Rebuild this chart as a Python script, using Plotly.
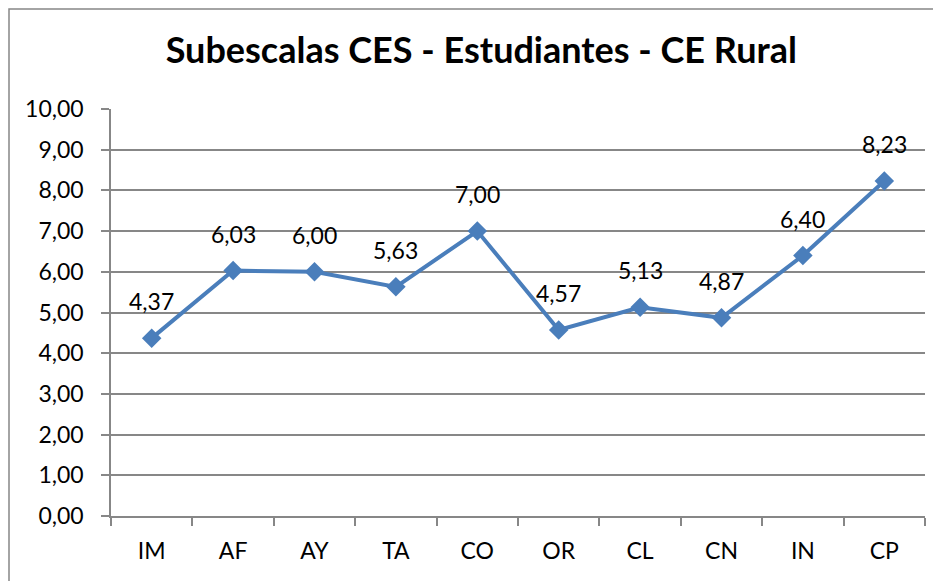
import plotly.graph_objects as go

categories = ["IM", "AF", "AY", "TA", "CO", "OR", "CL", "CN", "IN", "CP"]
values = [4.37, 6.03, 6.00, 5.63, 7.00, 4.57, 5.13, 4.87, 6.40, 8.23]
y_ticks = [0, 1, 2, 3, 4, 5, 6, 7, 8, 9, 10]
title_text = "Subescalas CES - Estudiantes - CE Rural"

FONT = "Lato"
GRID = "#878787"
LINE = "#4A7EBB"

fig = go.Figure()
fig.add_trace(go.Scatter(
    x=categories, y=values, mode="lines+markers",
    line=dict(color=LINE, width=4),
    marker=dict(symbol="diamond", size=15, color=LINE),
    hoverinfo="skip", showlegend=False,
))

for c, v in zip(categories, values):
    fig.add_annotation(
        x=c, y=v, text=f"{v:.2f}".replace(".", ","), showarrow=False,
        yshift=37, font=dict(family=FONT, size=23, color="black"),
    )

W, H = 941, 581
L, R, T, B = 103, 24, 101, 73
pw, ph = W - L - R, H - T - B

def px_x(p):
    return (p - L) / pw

def px_y(p):
    return (H - B - p) / ph

fig.add_shape(type="rect", xref="paper", yref="paper",
              x0=px_x(1), x1=px_x(W + 20), y0=px_y(H + 20), y1=px_y(1),
              line=dict(color=GRID, width=1.5), fillcolor="rgba(0,0,0,0)",
              layer="below")

fig.update_layout(
    width=W, height=H,
    margin=dict(l=L, r=R, t=T, b=B),
    paper_bgcolor="white", plot_bgcolor="white",
    separators=", ",
    font=dict(family=FONT, size=23, color="black"),
    title=dict(text=f"<b>{title_text}</b>", x=0.503, xanchor="center",
               y=1 - 42 / H, yanchor="middle",
               font=dict(family=FONT, size=36, color="black")),
    xaxis=dict(
        type="category", range=[-0.5, 9.5],
        showline=True, linecolor=GRID, linewidth=1.5,
        ticks="outside", tickson="boundaries", ticklen=8, tickcolor=GRID, tickwidth=1.5,
        showgrid=False, ticklabelstandoff=14,
        tickfont=dict(family=FONT, size=23),
    ),
    yaxis=dict(
        range=[0, 10], tickvals=y_ticks, tickformat=".2f",
        showline=True, linecolor=GRID, linewidth=1.5,
        ticks="outside", ticklen=8, tickcolor=GRID, tickwidth=1.5,
        showgrid=True, gridcolor=GRID, gridwidth=1.5,
        zeroline=False, ticklabelstandoff=13,
        tickfont=dict(family=FONT, size=23),
    ),
)

fig.write_html("out.html")
